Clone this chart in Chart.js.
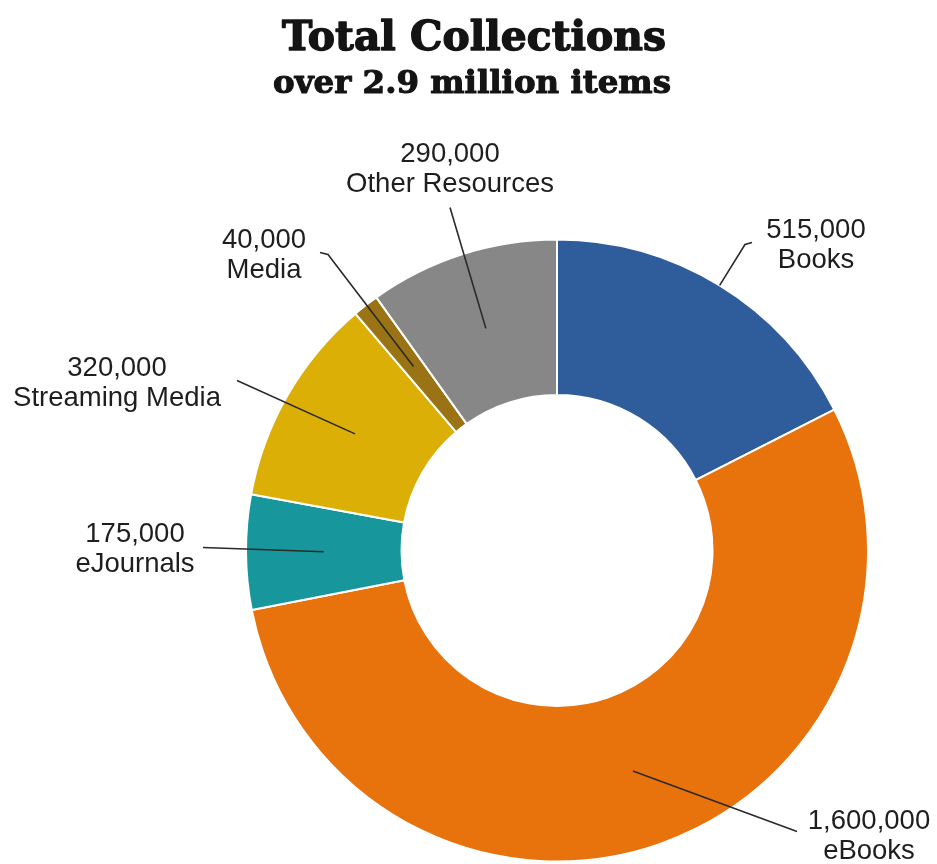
<!DOCTYPE html>
<html>
<head>
<meta charset="utf-8">
<script src="https://cdn.jsdelivr.net/npm/chart.js@4/dist/chart.umd.min.js"></script>
<style>
  html, body { margin: 0; padding: 0; background: #ffffff; }
  #wrap { width: 937px; height: 864px; position: relative; }
</style>
</head>
<body>
<div id="wrap"><canvas id="c" width="937" height="864"></canvas></div>
<script>
// ---- data ----
const categories = ["Books", "eBooks", "eJournals", "Streaming Media", "Media", "Other Resources"];
const itemCounts = [515000, 1600000, 175000, 320000, 40000, 290000];
const sliceColors = ["#2f5d9b", "#e8720c", "#17979c", "#dcaf06", "#9a7414", "#878787"];
const titleText = "Total Collections";
const subtitleText = "over 2.9 million items";

// ---- label layout (offsets from the doughnut centre, px) ----
const labelLayout = [
  { text: [259, -313], end: [195, -308], hook: [-7, 2], anchor: "outer" },
  { text: [312, 278],  end: [240, 281],  hook: [0, 0],  anchor: "mid" },
  { text: [-422, -9],  end: [-354, -3],  hook: [0, 0],  anchor: "mid" },
  { text: [-440, -175],end: [-320, -170],hook: [0, 0],  anchor: "mid" },
  { text: [-293, -303],end: [-237, -298],hook: [8, 2],  anchor: "mid" },
  { text: [-107, -389],end: [-107, -343],hook: [0, 0],  anchor: "mid" }
];

const fmt = v => v.toLocaleString("en-US");

const titlePlugin = {
  id: "titleDraw",
  beforeDraw(chart) {
    const ctx = chart.ctx;
    ctx.save();
    ctx.fillStyle = "#141414";
    ctx.strokeStyle = "#141414";
    ctx.lineJoin = "round";
    ctx.textAlign = "center";
    ctx.textBaseline = "alphabetic";
    const fit = (txt, targetW, size) => {
      ctx.font = "bold " + size + "px 'DejaVu Serif'";
      const w = ctx.measureText(txt).width;
      return Math.min(size * targetW / w, size * 1.3);
    };
    const s1 = fit(titleText, 384, 40);
    ctx.font = "bold " + s1 + "px 'DejaVu Serif'";
    ctx.lineWidth = 1.4;
    ctx.fillText(titleText, 474, 50);
    ctx.strokeText(titleText, 474, 50);
    const s2 = fit(subtitleText, 398, 30);
    ctx.font = "bold " + s2 + "px 'DejaVu Serif'";
    ctx.lineWidth = 1.1;
    ctx.fillText(subtitleText, 472, 93);
    ctx.strokeText(subtitleText, 472, 93);
    ctx.restore();
  }
};

const labelPlugin = {
  id: "leaderLabels",
  afterDatasetsDraw(chart) {
    const ctx = chart.ctx;
    const meta = chart.getDatasetMeta(0);
    ctx.save();
    meta.data.forEach((arc, i) => {
      const p = arc.getProps(["x", "y", "startAngle", "endAngle", "innerRadius", "outerRadius"], true);
      const mid = (p.startAngle + p.endAngle) / 2;
      const r = labelLayout[i].anchor === "outer" ? p.outerRadius : (p.innerRadius + p.outerRadius) / 2;
      const ax = p.x + Math.cos(mid) * r;
      const ay = p.y + Math.sin(mid) * r;
      const L = labelLayout[i];
      const ex = p.x + L.end[0], ey = p.y + L.end[1];
      const bx = ex + L.hook[0], by = ey + L.hook[1];
      ctx.strokeStyle = "#2a2a2a";
      ctx.lineWidth = 1.6;
      ctx.beginPath();
      ctx.moveTo(ax, ay);
      ctx.lineTo(bx, by);
      ctx.lineTo(ex, ey);
      ctx.stroke();
      ctx.fillStyle = "#1e1e1e";
      ctx.font = "27.5px 'Liberation Sans', Arial, sans-serif";
      ctx.textAlign = "center";
      ctx.textBaseline = "alphabetic";
      const tx = p.x + L.text[0], ty = p.y + L.text[1];
      ctx.fillText(fmt(chart.data.datasets[0].data[i]), tx, ty);
      ctx.fillText(chart.data.labels[i], tx, ty + 30);
    });
    ctx.restore();
  }
};

new Chart(document.getElementById("c"), {
  type: "doughnut",
  data: {
    labels: categories,
    datasets: [{
      data: itemCounts,
      backgroundColor: sliceColors,
      borderColor: "#ffffff",
      borderWidth: 2
    }]
  },
  options: {
    responsive: false,
    animation: false,
    cutout: "50%",
    layout: { padding: { left: 177, right: 0, top: 238.5, bottom: 1.5 } },
    plugins: {
      legend: { display: false },
      tooltip: { enabled: false },
      title: { display: false }
    }
  },
  plugins: [titlePlugin, labelPlugin]
});
</script>
</body>
</html>
